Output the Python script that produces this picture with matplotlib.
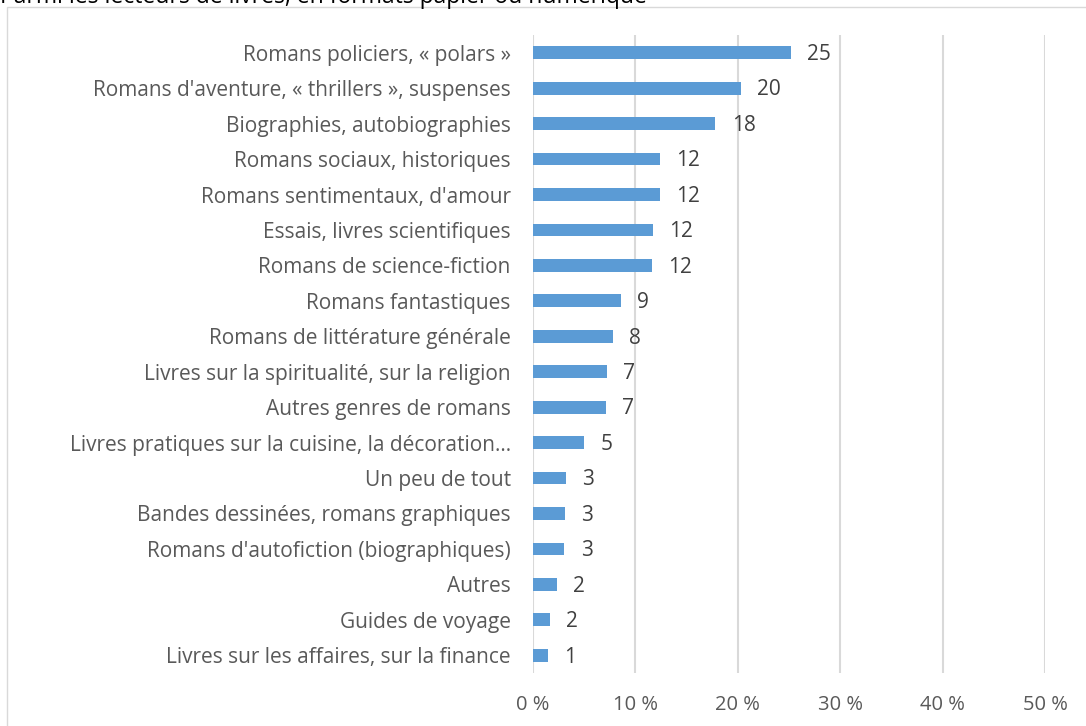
import matplotlib.pyplot as plt
from matplotlib.patches import Rectangle

# Genres lus (du haut vers le bas dans le graphique)
categories = [
    "Romans policiers, « polars »",
    "Romans d'aventure, « thrillers », suspenses",
    "Biographies, autobiographies",
    "Romans sociaux, historiques",
    "Romans sentimentaux, d'amour",
    "Essais, livres scientifiques",
    "Romans de science-fiction",
    "Romans fantastiques",
    "Romans de littérature générale",
    "Livres sur la spiritualité, sur la religion",
    "Autres genres de romans",
    "Livres pratiques sur la cuisine, la décoration…",
    "Un peu de tout",
    "Bandes dessinées, romans graphiques",
    "Romans d'autofiction (biographiques)",
    "Autres",
    "Guides de voyage",
    "Livres sur les affaires, sur la finance",
]
values = [25.2, 20.3, 17.8, 12.4, 12.4, 11.7, 11.6, 8.6, 7.8, 7.2, 7.1,
          5.0, 3.2, 3.1, 3.05, 2.3, 1.65, 1.45]
value_labels = ["25", "20", "18", "12", "12", "12", "12", "9", "8", "7", "7",
                "5", "3", "3", "3", "2", "2", "1"]
xticks = [0, 10, 20, 30, 40, 50]
xtick_labels = ["0 %", "10 %", "20 %", "30 %", "40 %", "50 %"]

plt.rcParams['font.family'] = ['Open Sans', 'DejaVu Sans']

fig = plt.figure(figsize=(10.86, 7.26), dpi=100)
ax = fig.add_axes([533 / 1086, 1 - 673 / 726, 512 / 1086, 638 / 726])

# Cadre gris clair autour du graphique
fig.patches.append(Rectangle((7 / 1086, -0.1), 1.2, 1 - 7 / 726 + 0.1,
                             transform=fig.transFigure, fill=False,
                             edgecolor='#d9d9d9', linewidth=1))

# Titre coupé en haut de l'image
fig.text(0.0, 1 - 3 / 726, "Parmi les lecteurs de livres, en formats papier ou numérique",
         fontsize=16.5, color='black', va='baseline', ha='left')

y = list(range(len(categories)))
ax.barh(y, values, height=0.36, color='#5b9bd5', zorder=3)

for yi, v, lab in zip(y, values, value_labels):
    ax.text(v + 1.6, yi + 0.05, lab, va='center', ha='left', fontsize=15, color='#404040')

ax.set_xlim(0, 50)
ax.set_ylim(len(categories) - 0.5, -0.5)
ax.set_yticks(y)
ax.set_yticklabels(categories, fontsize=15, color='#595959')
ax.set_xticks(xticks)
ax.set_xticklabels(xtick_labels, fontsize=14.5, color='#595959')
ax.tick_params(axis='y', length=0, pad=16)
ax.tick_params(axis='x', length=0, pad=16)
ax.grid(axis='x', color='#d9d9d9', linewidth=1.5, zorder=0)
for s in ax.spines.values():
    s.set_visible(False)

fig.savefig('out.png', dpi=100)
